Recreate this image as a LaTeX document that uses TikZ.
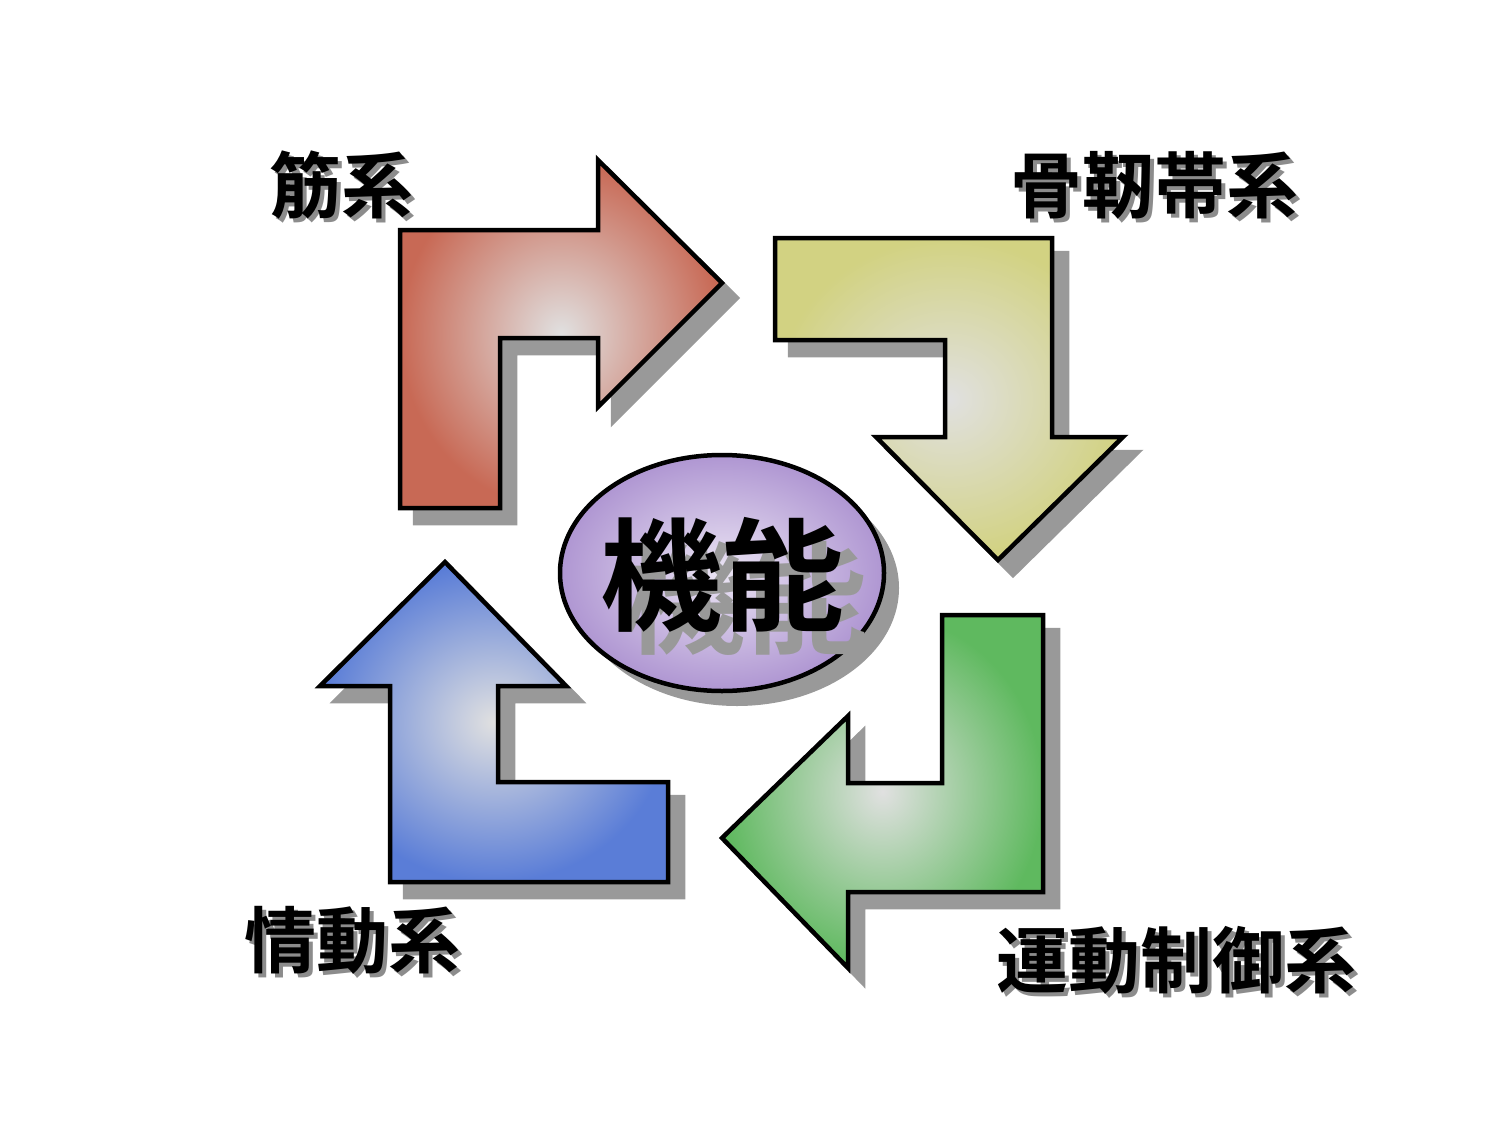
\documentclass[tikz,border=0pt]{standalone}
\usepackage{fontspec}
\newfontfamily\cjk{Noto Sans CJK JP Bold}
\definecolor{cr}{RGB}{200,105,85}
\definecolor{cy}{RGB}{210,210,130}
\definecolor{cg}{RGB}{95,185,95}
\definecolor{cb}{RGB}{90,125,215}
\definecolor{cp}{RGB}{175,150,210}
\begin{document}
\begin{tikzpicture}[x=1pt,y=-1pt,
  arr/.style={draw=black,line width=4.5pt,line join=miter},
  shad/.style={fill=black!40,draw=black!40,line width=4.5pt},
  lab/.style={font=\cjk\fontsize{72}{80}\selectfont,inner sep=0pt}]
\useasboundingbox (0,0) rectangle (1499,1124);
\def\red{(400,230)--(598,230)--(598,160)--(722,283)--(598,407)--(598,338)--(500,338)--(500,508)--(400,508)--cycle}
\def\yel{(775,238)--(1052,238)--(1052,437)--(1123,437)--(998,560)--(876,437)--(945,437)--(945,340)--(775,340)--cycle}
\def\gre{(1043,615)--(1043,892)--(848,892)--(848,968)--(722,838)--(848,716)--(848,783)--(942,783)--(942,615)--cycle}
\def\blu{(390,882)--(668,882)--(668,782)--(498,782)--(498,686)--(566,686)--(445,562)--(320,686)--(390,686)--cycle}
\foreach \p in {\red,\yel,\gre,\blu}{
  \begin{scope}[shift={(15,15)}] \path[shad] \p; \end{scope}}
\path[arr,inner color=black!12,outer color=cr] \red;
\path[arr,inner color=black!12,outer color=cy] \yel;
\path[arr,inner color=black!12,outer color=cg] \gre;
\path[arr,inner color=black!12,outer color=cb] \blu;
\fill[black!40] (737,588) ellipse [x radius=162,y radius=118];
\path[arr,inner color=cp!25,outer color=cp] (722,573) ellipse [x radius=162,y radius=118];
\node[lab,font=\cjk\fontsize{122}{130}\selectfont,text=black!40] at (745,598) {機能};
\node[lab,font=\cjk\fontsize{122}{130}\selectfont] (c) at (722,575) {機能};
\node[lab,text=black!45] at (345,189) {筋系};
\node[lab] (a) at (341,185) {筋系};
\node[lab,text=black!45] at (1158,189) {骨靭帯系};
\node[lab] (b) at (1154,185) {骨靭帯系};
\node[lab,text=black!45] at (356,944) {情動系};
\node[lab] (d) at (352,940) {情動系};
\node[lab,text=black!45] at (1180,964) {運動制御系};
\node[lab] (e) at (1176,960) {運動制御系};
\end{tikzpicture}
\end{document}
